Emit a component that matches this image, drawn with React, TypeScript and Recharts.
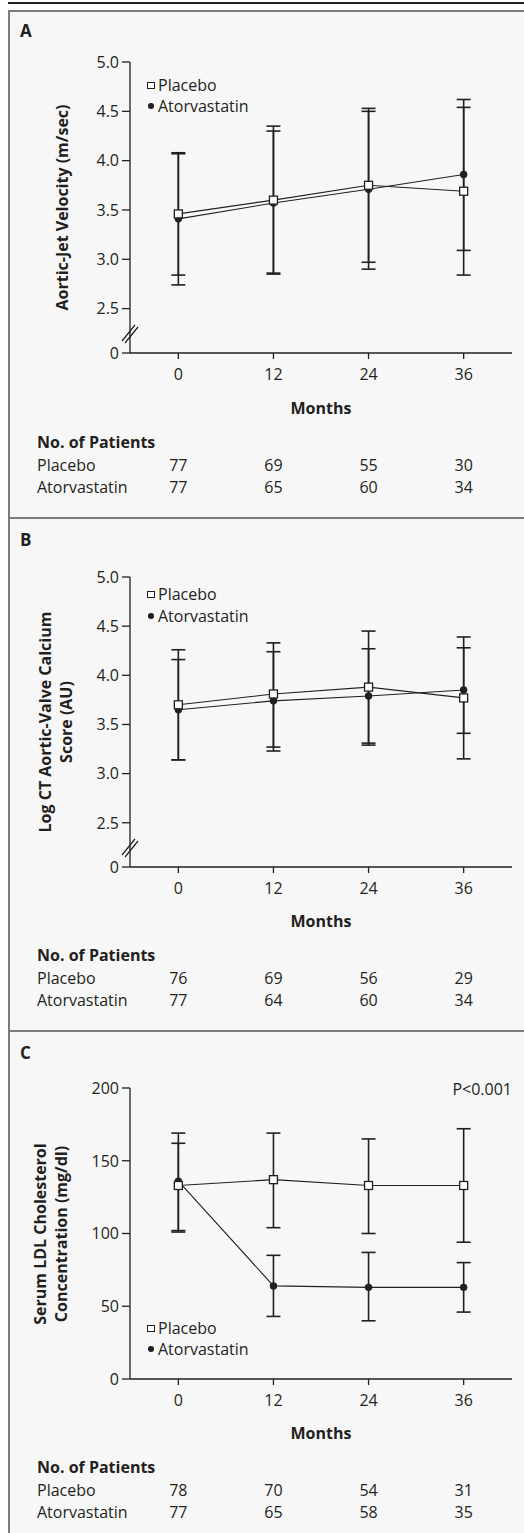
import React from 'react';
import { LineChart, Line, XAxis, YAxis, ErrorBar } from 'recharts';

const FONT = '"Open Sans", "Noto Sans", sans-serif';
const INK = '#231f20';
const PANEL_BG = '#f7f7f7';
const BORDER = '#7b7b7b';
const FS = 16;

// ---------- data ----------
const months = [0, 12, 24, 36];
const seriesNames = ['Placebo', 'Atorvastatin'];

// Panel A – aortic-jet velocity (m/sec)
const aPlaceboMean = [3.46, 3.6, 3.75, 3.69];
const aPlaceboLow = [2.84, 2.86, 2.97, 2.84];
const aPlaceboHigh = [4.08, 4.35, 4.53, 4.54];
const aAtorvaMean = [3.41, 3.57, 3.71, 3.86];
const aAtorvaLow = [2.74, 2.85, 2.9, 3.09];
const aAtorvaHigh = [4.07, 4.3, 4.5, 4.62];
const aNPlacebo = [77, 69, 55, 30];
const aNAtorva = [77, 65, 60, 34];

// Panel B – log CT aortic-valve calcium score (AU)
const bPlaceboMean = [3.7, 3.81, 3.88, 3.77];
const bPlaceboLow = [3.14, 3.27, 3.31, 3.15];
const bPlaceboHigh = [4.26, 4.33, 4.45, 4.39];
const bAtorvaMean = [3.65, 3.74, 3.79, 3.85];
const bAtorvaLow = [3.14, 3.23, 3.29, 3.41];
const bAtorvaHigh = [4.16, 4.24, 4.27, 4.28];
const bNPlacebo = [76, 69, 56, 29];
const bNAtorva = [77, 64, 60, 34];

// Panel C – serum LDL cholesterol (mg/dl)
const cPlaceboMean = [133, 137, 133, 133];
const cPlaceboLow = [102, 104, 100, 94];
const cPlaceboHigh = [162, 169, 165, 172];
const cAtorvaMean = [136, 64, 63, 63];
const cAtorvaLow = [101, 43, 40, 46];
const cAtorvaHigh = [169, 85, 87, 80];
const cNPlacebo = [78, 70, 54, 31];
const cNAtorva = [77, 65, 58, 35];

// axis ticks
const breakBase = 2.05; // bottom of broken axis, labelled "0"
const abYTicks = [breakBase, 2.5, 3.0, 3.5, 4.0, 4.5, 5.0];
const cYTicks = [0, 50, 100, 150, 200];

// ---------- layout constants ----------
const CHART_W = 524;
const PLOT_LEFT = 130;
const PLOT_RIGHT = 512;
const X_MIN = -6.1;
const X_MAX = 42.1;
const PAD_TOP = 10;
const X_AXIS_H = 40;
const Y_TICK_SIZE = 8;
const Y_TICK_MARGIN = 3;

const xOf = (m: number) => PLOT_LEFT + ((m - X_MIN) / (X_MAX - X_MIN)) * (PLOT_RIGHT - PLOT_LEFT);

function SquareDot(props: any) {
  const { cx, cy, index } = props;
  if (cx == null || cy == null) return <g key={`sq-${index}`} />;
  return (
    <rect key={`sq-${index}`} x={cx - 4} y={cy - 4} width={8} height={8} fill="#fff" stroke={INK} strokeWidth={1.3} />
  );
}

function CircleDot(props: any) {
  const { cx, cy, index } = props;
  if (cx == null || cy == null) return <g key={`ci-${index}`} />;
  return <circle key={`ci-${index}`} cx={cx} cy={cy} r={3.7} fill={INK} stroke="none" />;
}

function makeYTick(hasBreak: boolean, decimals: number) {
  return (props: any) => {
    const { x, y, payload } = props;
    const v = payload.value as number;
    const isBreak = hasBreak && Math.abs(v - breakBase) < 1e-6;
    const label = isBreak ? '0' : v.toFixed(decimals);
    const ax = x + Y_TICK_SIZE + Y_TICK_MARGIN;
    return (
      <g>
        <text x={x} y={y} dy="0.36em" textAnchor="end" fontSize={FS} fill={INK} fontFamily={FONT}>
          {label}
        </text>
        {isBreak && (
          <g stroke={INK} strokeWidth={1.2}>
            <line x1={ax - 8} y1={y - 12} x2={ax + 5} y2={y - 28} />
            <line x1={ax - 5} y1={y - 10} x2={ax + 8} y2={y - 26} />
          </g>
        )}
      </g>
    );
  };
}

function Txt(props: {
  x: number;
  cy: number;
  children: React.ReactNode;
  bold?: boolean;
  align?: 'left' | 'center' | 'right';
  size?: number;
  w?: number;
}) {
  const { x, cy, children, bold, align = 'left', size = FS, w = 200 } = props;
  const lh = 20;
  let left = x;
  if (align === 'center') left = x - w / 2;
  if (align === 'right') left = x - w;
  return (
    <div
      style={{
        position: 'absolute',
        left,
        top: cy - lh / 2,
        width: w,
        height: lh,
        lineHeight: `${lh}px`,
        fontSize: size,
        fontWeight: bold ? 700 : 400,
        textAlign: align,
        whiteSpace: 'nowrap',
        color: INK,
      }}
    >
      {children}
    </div>
  );
}

type PanelCfg = {
  letter: string;
  letterY: number;
  plotTop: number;
  plotBottom: number;
  yDomain: [number, number];
  yTicks: number[];
  hasBreak: boolean;
  decimals: number;
  yTitle: string[];
  yTitleX: number;
  legendY: [number, number];
  textTop: number; // center of "Months"
  pMean: number[];
  pLow: number[];
  pHigh: number[];
  aMean: number[];
  aLow: number[];
  aHigh: number[];
  nP: number[];
  nA: number[];
  pValue?: string;
};

function Panel({ cfg }: { cfg: PanelCfg }) {
  const data = months.map((m, i) => ({
    month: m,
    placebo: cfg.pMean[i],
    placeboErr: [cfg.pMean[i] - cfg.pLow[i], cfg.pHigh[i] - cfg.pMean[i]],
    atorva: cfg.aMean[i],
    atorvaErr: [cfg.aMean[i] - cfg.aLow[i], cfg.aHigh[i] - cfg.aMean[i]],
  }));
  const plotH = cfg.plotBottom - cfg.plotTop;
  const chartH = PAD_TOP + plotH + X_AXIS_H;
  const titleH = cfg.yTitle.length * 21;
  const titleCy = (cfg.plotTop + cfg.plotBottom) / 2;
  const mY = cfg.textTop;
  return (
    <>
      <Txt x={20} cy={cfg.letterY} bold size={17}>
        {cfg.letter}
      </Txt>
      <div
        style={{
          position: 'absolute',
          left: cfg.yTitleX - 160,
          top: titleCy - titleH / 2,
          width: 320,
          height: titleH,
          lineHeight: '21px',
          fontSize: FS,
          fontWeight: 700,
          textAlign: 'center',
          transform: 'rotate(-90deg)',
          transformOrigin: 'center center',
          color: INK,
          whiteSpace: 'nowrap',
        }}
      >
        {cfg.yTitle.map((l) => (
          <div key={l}>{l}</div>
        ))}
      </div>
      <div style={{ position: 'absolute', left: 0, top: cfg.plotTop - PAD_TOP }}>
        <LineChart
          width={CHART_W}
          height={chartH}
          data={data}
          margin={{ top: PAD_TOP, right: CHART_W - PLOT_RIGHT, bottom: 0, left: 0 }}
        >
          <XAxis
            dataKey="month"
            type="number"
            domain={[X_MIN, X_MAX]}
            ticks={months}
            interval={0}
            allowDataOverflow
            height={X_AXIS_H}
            tickSize={6}
            tickMargin={10}
            axisLine={{ stroke: INK, strokeWidth: 1.3 }}
            tickLine={{ stroke: INK, strokeWidth: 1.3 }}
            tick={{ fontSize: FS, fill: INK, fontFamily: FONT }}
          />
          <YAxis
            type="number"
            domain={cfg.yDomain}
            ticks={cfg.yTicks}
            interval={0}
            allowDataOverflow
            width={PLOT_LEFT}
            tickSize={Y_TICK_SIZE}
            tickMargin={Y_TICK_MARGIN}
            axisLine={{ stroke: INK, strokeWidth: 1.3 }}
            tickLine={{ stroke: INK, strokeWidth: 1.3 }}
            tick={makeYTick(cfg.hasBreak, cfg.decimals)}
          />
          <Line
            type="linear"
            dataKey="atorva"
            name={seriesNames[1]}
            stroke={INK}
            strokeWidth={1.1}
            dot={CircleDot}
            activeDot={false}
            isAnimationActive={false}
          >
            <ErrorBar dataKey="atorvaErr" direction="y" width={7} stroke={INK} strokeWidth={1.6} />
          </Line>
          <Line
            type="linear"
            dataKey="placebo"
            name={seriesNames[0]}
            stroke={INK}
            strokeWidth={1.1}
            dot={SquareDot}
            activeDot={false}
            isAnimationActive={false}
          >
            <ErrorBar dataKey="placeboErr" direction="y" width={7} stroke={INK} strokeWidth={1.6} />
          </Line>
        </LineChart>
      </div>
      {/* legend */}
      <div
        style={{
          position: 'absolute',
          left: 147,
          top: cfg.legendY[0] - 3.5,
          width: 5.6,
          height: 5.6,
          border: `1.2px solid ${INK}`,
          background: '#fff',
        }}
      />
      <Txt x={158} cy={cfg.legendY[0]}>
        {seriesNames[0]}
      </Txt>
      <div
        style={{
          position: 'absolute',
          left: 148.2,
          top: cfg.legendY[1] - 2.8,
          width: 5.6,
          height: 5.6,
          borderRadius: '50%',
          background: INK,
        }}
      />
      <Txt x={158} cy={cfg.legendY[1]}>
        {seriesNames[1]}
      </Txt>
      {cfg.pValue && (
        <Txt x={PLOT_RIGHT} cy={cfg.plotTop + 1} align="right">
          {cfg.pValue}
        </Txt>
      )}
      {/* x title and patient table */}
      <Txt x={(PLOT_LEFT + PLOT_RIGHT) / 2} cy={mY} bold align="center">
        Months
      </Txt>
      <Txt x={37} cy={mY + 34} bold>
        No. of Patients
      </Txt>
      <Txt x={37} cy={mY + 57}>
        {seriesNames[0]}
      </Txt>
      <Txt x={37} cy={mY + 79}>
        {seriesNames[1]}
      </Txt>
      {months.map((m, i) => (
        <React.Fragment key={m}>
          <Txt x={xOf(m)} cy={mY + 57} align="center" w={60}>
            {cfg.nP[i]}
          </Txt>
          <Txt x={xOf(m)} cy={mY + 79} align="center" w={60}>
            {cfg.nA[i]}
          </Txt>
        </React.Fragment>
      ))}
    </>
  );
}

const panels: PanelCfg[] = [
  {
    letter: 'A',
    letterY: 31,
    plotTop: 62,
    plotBottom: 353,
    yDomain: [breakBase, 5.0],
    yTicks: abYTicks,
    hasBreak: true,
    decimals: 1,
    yTitle: ['Aortic-Jet Velocity (m/sec)'],
    yTitleX: 62,
    legendY: [85, 106],
    textTop: 408,
    pMean: aPlaceboMean,
    pLow: aPlaceboLow,
    pHigh: aPlaceboHigh,
    aMean: aAtorvaMean,
    aLow: aAtorvaLow,
    aHigh: aAtorvaHigh,
    nP: aNPlacebo,
    nA: aNAtorva,
  },
  {
    letter: 'B',
    letterY: 540,
    plotTop: 577,
    plotBottom: 867,
    yDomain: [breakBase, 5.0],
    yTicks: abYTicks,
    hasBreak: true,
    decimals: 1,
    yTitle: ['Log CT Aortic-Valve Calcium', 'Score (AU)'],
    yTitleX: 56,
    legendY: [594, 616],
    textTop: 921,
    pMean: bPlaceboMean,
    pLow: bPlaceboLow,
    pHigh: bPlaceboHigh,
    aMean: bAtorvaMean,
    aLow: bAtorvaLow,
    aHigh: bAtorvaHigh,
    nP: bNPlacebo,
    nA: bNAtorva,
  },
  {
    letter: 'C',
    letterY: 1053,
    plotTop: 1088,
    plotBottom: 1379,
    yDomain: [0, 200],
    yTicks: cYTicks,
    hasBreak: false,
    decimals: 0,
    yTitle: ['Serum LDL Cholesterol', 'Concentration (mg/dl)'],
    yTitleX: 51,
    legendY: [1328, 1349],
    textTop: 1433,
    pMean: cPlaceboMean,
    pLow: cPlaceboLow,
    pHigh: cPlaceboHigh,
    aMean: cAtorvaMean,
    aLow: cAtorvaLow,
    aHigh: cAtorvaHigh,
    nP: cNPlacebo,
    nA: cNAtorva,
    pValue: 'P<0.001',
  },
];

export default function App() {
  return (
    <div
      style={{
        position: 'absolute',
        left: 0,
        top: 0,
        width: 524,
        height: 1533,
        background: '#fff',
        fontFamily: FONT,
        overflow: 'hidden',
      }}
    >
      <div style={{ position: 'absolute', left: 8, top: 2, width: 516, height: 2, background: INK }} />
      <div
        style={{
          position: 'absolute',
          left: 8,
          top: 10,
          width: 530,
          height: 1540,
          background: PANEL_BG,
          borderLeft: `2px solid ${BORDER}`,
          borderTop: `2px solid ${BORDER}`,
        }}
      />
      <div style={{ position: 'absolute', left: 8, top: 517, width: 530, height: 2, background: BORDER }} />
      <div style={{ position: 'absolute', left: 8, top: 1030, width: 530, height: 2, background: BORDER }} />
      {panels.map((p) => (
        <Panel key={p.letter} cfg={p} />
      ))}
    </div>
  );
}
